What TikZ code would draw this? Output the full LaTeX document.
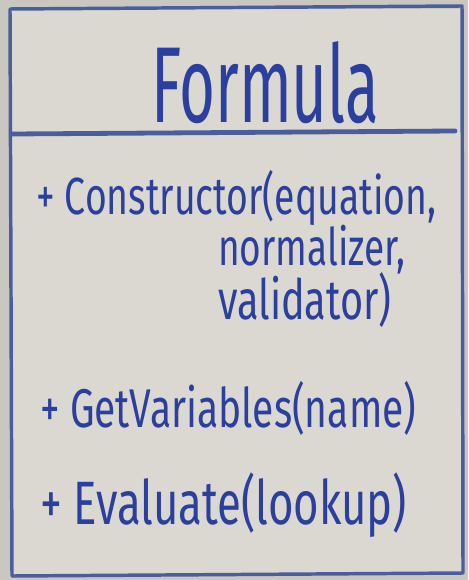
\documentclass[tikz,border=0pt]{standalone}
\usepackage{fontspec}
\setmainfont{Fira Sans}
\usepackage{graphicx}
\definecolor{board}{HTML}{DAD8D1}
\definecolor{edge}{HTML}{C9C7C0}
\definecolor{ink}{HTML}{2B3F9E}
\definecolor{frame}{HTML}{4A5E9E}
\newcommand{\tall}[3][1.4]{\resizebox{#2}{!}{\scalebox{1}[#1]{#3}}}
\tikzset{
  marker/.style={draw=frame, line width=2.6pt, line cap=round, line join=round},
  member/.style={text=ink, anchor=west, inner sep=0pt, font=\fontsize{30}{34}\selectfont},
  title/.style={text=ink, inner sep=0pt, font=\fontsize{58}{64}\selectfont}
}
\begin{document}
\begin{tikzpicture}[x=0.75pt,y=-0.75pt]
\fill[edge] (0,0) rectangle (468,580);
\useasboundingbox (0,0) rectangle (468,580);
\fill[board] (10,9) rectangle (462,574);
\coordinate (tl) at (10,9);
\coordinate (tr) at (462,6);
\coordinate (br) at (463,573);
\coordinate (bl) at (12,576);
\draw[marker] (tl) -- (tr) -- (br) -- (bl) -- cycle;
\coordinate (dl) at (12,134);
\coordinate (dr) at (455,131);
\draw[marker, line width=3.6pt] (dl) -- (dr);
\node[title] (name) at (265,83) {\tall[1.75]{171pt}{Formula}};
\node[member] (m1) at (36,198) {\tall{300pt}{+ Constructor(equation,}};
\node[member] (m1b) at (218,250) {\tall{140pt}{normalizer,}};
\node[member] (m1c) at (218,300) {\tall{130pt}{validator)}};
\node[member] (m2) at (40,408) {\tall{282pt}{+ GetVariables(name)}};
\node[member] (m3) at (40,505) {\tall{275pt}{+ Evaluate(lookup)}};
\end{tikzpicture}
\end{document}
